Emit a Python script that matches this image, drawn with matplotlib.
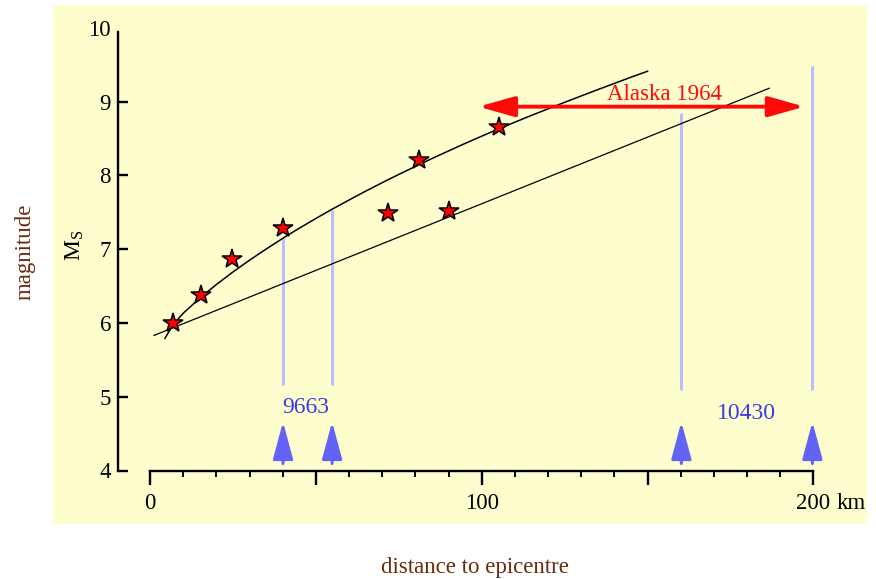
import matplotlib
matplotlib.use("Agg")
import matplotlib.pyplot as plt
from matplotlib.patches import Rectangle, FancyArrowPatch

# observed magnitudes vs distance (km)
star_dist = [7.0, 15.4, 24.6, 40.2, 71.8, 81.2, 90.1, 105.3]
star_mag = [6.00, 6.38, 6.87, 7.28, 7.49, 8.21, 7.52, 8.65]

# curved fit
curve_dist = [4.5, 7, 10, 15, 20, 25, 30, 35, 40, 45, 50, 55, 60, 65, 70, 75, 80, 85,
              90, 95, 100, 105, 110, 115, 120, 125, 130, 135, 140, 145, 150]
curve_mag = [5.79, 5.98, 6.13, 6.335, 6.52, 6.69, 6.85, 7.0, 7.145, 7.283, 7.415, 7.543,
             7.665, 7.785, 7.90, 8.012, 8.12, 8.227, 8.33, 8.432, 8.53, 8.627, 8.72,
             8.812, 8.90, 8.989, 9.075, 9.161, 9.245, 9.329, 9.41]

# straight fit
line_dist = [1.2, 186.7]
line_mag = [5.83, 9.18]

# station markers (light lines + arrows)
station_dist = [40.1, 54.9, 160.2, 199.7]
station_top = [7.15, 7.53, 8.85, 9.48]
station_bottom = [5.16, 5.16, 5.09, 5.09]
arrow_tail = 4.095
arrow_tip = 4.66

station_labels = ["9663", "10430"]
station_label_x = [46.9, 179.7]
station_label_y = [4.86, 4.77]

alaska_range = [99.0, 197.3]
alaska_mag = 8.93

yticks = [4, 5, 6, 7, 8, 9, 10]
xticks = [0, 50, 100, 150, 200]
xticklabels = ["0", "", "100", "", "200"]
xminor = list(range(0, 201, 10))

plt.rcParams["font.family"] = ["Liberation Serif", "DejaVu Serif"]
plt.rcParams["mathtext.fontset"] = "custom"
plt.rcParams["mathtext.rm"] = "Liberation Serif"

W, H = 876, 579
fig = plt.figure(figsize=(W / 100, H / 100), dpi=100)
fig.patch.set_facecolor("white")
fig.patches.append(Rectangle((52.7 / W, 1 - 524 / H), (866.7 - 52.7) / W, (524 - 5) / H,
                             transform=fig.transFigure, facecolor="#FEFDCD",
                             edgecolor="none", zorder=-10))

ax = fig.add_axes([118 / W, 108.5 / H, 748 / W, 442.8 / H])
ax.patch.set_visible(False)
ax.set_xlim((118 - 150) / 3.317, (866 - 150) / 3.317)
ax.set_ylim(4, 10)

for s in ["top", "right"]:
    ax.spines[s].set_visible(False)
ax.spines["left"].set_bounds(4, 9.94)
ax.spines["bottom"].set_bounds(0, 200)
ax.spines["left"].set_linewidth(1.7)
ax.spines["bottom"].set_linewidth(1.7)

ax.set_yticks(yticks)
ax.set_yticklabels([str(v) for v in yticks])
ax.tick_params(axis="y", direction="in", length=7, width=1.7, pad=5, labelsize=16.5)
ax.yaxis.get_major_ticks()[-1].tick1line.set_visible(False)

ax.set_xticks(xticks)
ax.set_xticklabels(xticklabels)
ax.set_xticks(xminor, minor=True)
ax.tick_params(axis="x", which="major", direction="out", length=10, width=1.7, pad=6, labelsize=16.5)
ax.tick_params(axis="x", which="minor", direction="out", length=4.5, width=1.4)
ax.annotate("km", xy=(200, 4), xycoords="data", xytext=(16.5, -16), textcoords="offset points",
            ha="left", va="top", fontsize=16.5)

# light blue station lines
for x, top, bot in zip(station_dist, station_top, station_bottom):
    ax.plot([x, x], [bot, top], color="#BCBCFF", lw=2.2, zorder=1, solid_capstyle="butt")

ax.plot(curve_dist, curve_mag, color="black", lw=1.1, zorder=2)
ax.plot(line_dist, line_mag, color="black", lw=0.9, zorder=2)

ax.plot(star_dist, star_mag, ls="none", marker="*", ms=15, mfc="#FF0000", mec="black",
        mew=1.1, zorder=5)

# blue arrows
for x in station_dist:
    ax.add_patch(FancyArrowPatch((x, arrow_tail), (x, arrow_tip),
                                 arrowstyle="-|>,head_length=2.3,head_width=0.62",
                                 mutation_scale=10, lw=2.2, color="#6363F7",
                                 shrinkA=0, shrinkB=0, zorder=3))

for txt, x, y in zip(station_labels, station_label_x, station_label_y):
    ax.text(x, y, txt, color="#3B3BE6", fontsize=17, ha="center", va="center")

# Alaska double arrow
ax.add_patch(FancyArrowPatch((alaska_range[0], alaska_mag), (alaska_range[1], alaska_mag),
                             arrowstyle="<|-|>,head_length=2.2,head_width=0.62",
                             mutation_scale=10, lw=2.8, color="#FF0A0A",
                             shrinkA=0, shrinkB=0, zorder=4))
ax.text(155, 9.1, "Alaska 1964", color="#FF0A0A", fontsize=16.5, ha="center", va="center", zorder=4)

fig.text(75 / W, 1 - 245 / H, r"$\mathrm{M_S}$", rotation=90, fontsize=17,
         ha="center", va="center")
fig.text(25 / W, 1 - 252 / H, "magnitude", rotation=90, fontsize=16.5, color="#6B2B10",
         ha="center", va="center")
fig.text(475 / W, 1 - 567 / H, "distance to epicentre", fontsize=16.5, color="#6B2B10",
         ha="center", va="center")

fig.savefig("out.png", dpi=100)
